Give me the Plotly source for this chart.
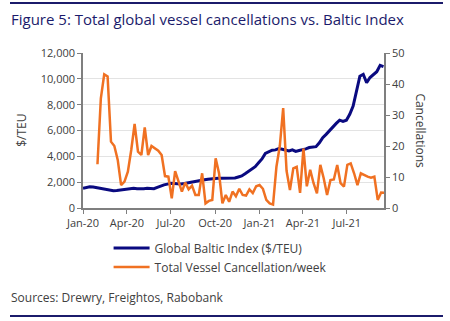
import plotly.graph_objects as go
import pandas as pd

# ---- data ----
baltic_start = "2020-01-01"
baltic_index = [1525, 1600, 1650, 1620, 1570, 1520, 1450, 1390, 1360, 1340,
                1360, 1390, 1420, 1450, 1480, 1525, 1490, 1470, 1500, 1525,
                1510, 1500, 1600, 1720, 1790, 1850, 1910, 1900, 1870, 1860,
                1900, 1940, 1960, 2020, 2080, 2120, 2180, 2230, 2270, 2300,
                2300, 2300, 2300, 2300, 2310, 2320, 2400, 2480, 2650, 2850,
                3000, 3200, 3500, 3800, 4230, 4350, 4480, 4500, 4600, 4550,
                4500, 4420, 4500, 4380, 4450, 4500, 4580, 4680, 4700, 4750,
                5050, 5450, 5700, 6000, 6300, 6550, 6800, 6700, 6800, 7250,
                7900, 9000, 10200, 10350, 9700, 10100, 10350, 10550, 11050, 10950]

cancel_start = "2020-01-31"
cancellations = [14.1, 35.4, 43.1, 42.4, 21.4, 20.0, 15.5, 7.4, 8.5, 11.7,
                 18.7, 27.1, 18.2, 17.1, 26.0, 17.1, 20.0, 19.2, 18.5, 17.1,
                 10.3, 10.1, 3.1, 11.9, 8.5, 5.3, 8.2, 6.0, 7.2, 4.2,
                 4.2, 11.2, 1.5, 2.3, 2.6, 16.0, 11.2, 1.5, 4.2, 2.0,
                 5.3, 3.8, 6.2, 4.2, 4.0, 6.0, 4.8, 7.0, 7.4, 6.2,
                 2.6, 1.5, 1.1, 13.3, 20.0, 32.2, 12.0, 5.8, 12.8, 13.3,
                 4.9, 19.2, 7.0, 12.3, 8.0, 4.7, 13.9, 9.6, 4.2, 9.0,
                 9.2, 13.9, 8.0, 6.9, 13.9, 14.4, 11.2, 7.4, 11.2, 10.6,
                 10.1, 9.8, 10.1, 2.6, 5.0, 4.9]

baltic_dates = pd.date_range(baltic_start, periods=len(baltic_index), freq="7D")
cancel_dates = pd.date_range(cancel_start, periods=len(cancellations), freq="7D")

title_text = "Figure 5: Total global vessel cancellations vs. Baltic Index"
source_text = "Sources: Drewry, Freightos, Rabobank"

NAVY = "#1b1b6b"
BLUE = "#0a0a80"
ORANGE = "#f07122"
AXIS = "#7f7f7f"
TXT = "#404040"
FONT = "Open Sans"

fig = go.Figure()
fig.add_trace(go.Scatter(x=baltic_dates, y=baltic_index, mode="lines",
                         name="Global Baltic Index ($/TEU)",
                         line=dict(color=BLUE, width=3)))
fig.add_trace(go.Scatter(x=cancel_dates, y=cancellations, mode="lines",
                         name="Total Vessel Cancellation/week", yaxis="y2",
                         line=dict(color=ORANGE, width=2.5)))

fig.update_layout(
    width=450, height=321,
    margin=dict(l=83, r=66, t=53, b=113),
    paper_bgcolor="white", plot_bgcolor="white",
    font=dict(family=FONT, size=11, color=TXT),
    showlegend=True,
    legend=dict(x=0.085, y=-0.165, xanchor="left", yanchor="top",
                orientation="v", font=dict(size=12, color=TXT),
                bgcolor="rgba(0,0,0,0)", itemwidth=36, tracegroupgap=0),
    xaxis=dict(range=["2020-01-01", "2021-09-16"], dtick="M3",
               tick0="2020-01-01", tickformat="%b-%y",
               showgrid=False, showline=True, linecolor=AXIS, linewidth=1.5,
               ticks="outside", ticklen=4, tickcolor=AXIS,
               tickfont=dict(size=11, color=TXT)),
    yaxis=dict(range=[0, 12000], dtick=2000, tickformat=",d",
               showgrid=True, gridcolor="#e3e3e3", gridwidth=1,
               showline=True, linecolor=AXIS, linewidth=1.5,
               ticks="outside", ticklen=4, tickcolor=AXIS, zeroline=False,
               tickfont=dict(size=11, color=TXT)),
    yaxis2=dict(range=[0, 50], dtick=10, overlaying="y", side="right",
                showgrid=False, showline=True, linecolor=AXIS, linewidth=1.5,
                ticks="outside", ticklen=4, tickcolor=AXIS, zeroline=False,
                tickfont=dict(size=11, color=TXT)),
    annotations=[
        dict(text=title_text, xref="paper", yref="paper",
             x=-0.245, y=1.219, xanchor="left", yanchor="middle",
             showarrow=False, font=dict(size=15, color=NAVY, family=FONT)),
        dict(text="$/TEU", xref="paper", yref="paper", x=-0.205, y=0.5,
             xanchor="center", yanchor="middle", textangle=-90,
             showarrow=False, font=dict(size=12, color=TXT)),
        dict(text="Cancellations", xref="paper", yref="paper", x=1.12, y=0.5,
             xanchor="center", yanchor="middle", textangle=90,
             showarrow=False, font=dict(size=12, color=TXT)),
        dict(text=source_text, xref="paper", yref="paper",
             x=-0.245, y=-0.58, xanchor="left", yanchor="middle",
             showarrow=False, font=dict(size=12, color=TXT)),
    ],
    shapes=[
        dict(type="line", xref="paper", yref="paper", x0=-0.2425, x1=1.196,
             y0=1.3226, y1=1.3226, line=dict(color=NAVY, width=2)),
        dict(type="line", xref="paper", yref="paper", x0=-0.2425, x1=1.196,
             y0=-0.697, y1=-0.697, line=dict(color=NAVY, width=2)),
    ],
)

fig.write_html("out.html")
